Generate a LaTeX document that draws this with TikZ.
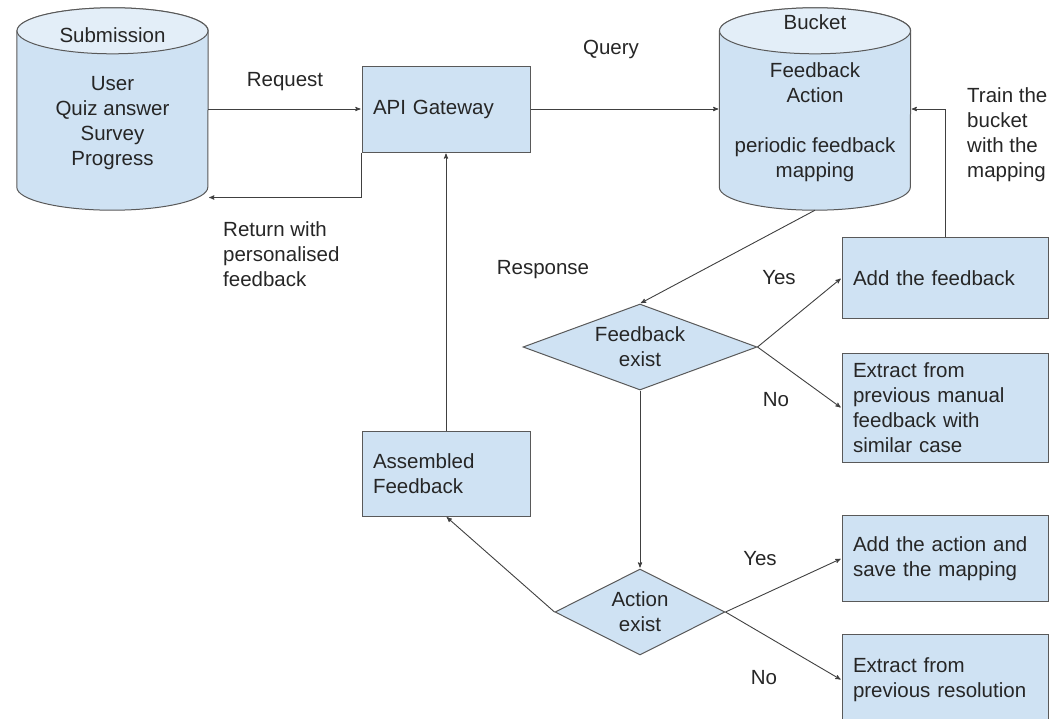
\documentclass[tikz,border=0pt]{standalone}
\usepackage{fontspec}
\setmainfont{Liberation Sans}
\usetikzlibrary{positioning,arrows,shapes.geometric}
\definecolor{boxblue}{HTML}{CFE2F3}
\definecolor{capblue}{HTML}{E3EEF8}
\definecolor{edgegray}{HTML}{595959}
\definecolor{linkgray}{HTML}{404040}
\definecolor{inkgray}{HTML}{262626}
\tikzset{
  block/.style = {rectangle, draw = edgegray, fill = boxblue, line width = 1pt, align = left, inner xsep = 11pt, inner ysep = 0pt},
  store/.style = {rectangle, minimum width = 191pt, minimum height = 202pt, inner sep = 0pt},
  check/.style = {diamond, draw = edgegray, fill = boxblue, line width = 1pt, align = center, inner sep = 0pt},
  note/.style = {align = left, inner sep = 0pt},
  link/.style = {->, color = linkgray, line width = 0.9pt}
}

\begin{document}
\begin{tikzpicture}[x = 1pt, y = 1pt, >= stealth', shorten >= 1pt, on grid, font = \fontsize{20.5}{25}\selectfont, text = inkgray]
  \useasboundingbox (0,0) rectangle (1062,-718);
  \clip (0,0) rectangle (1062,-718);
  % stores
  \node[store] (sub) at (112.5,-109) {};
  \node[store] (bucket) [right = 702.5pt of sub] {};
  \foreach \s in {sub,bucket} {
    \path[draw = edgegray, fill = boxblue, line width = 1pt]
      ([yshift = -23pt]\s.north west) -- ([yshift = 23pt]\s.south west)
      arc[start angle = 180, end angle = 360, x radius = 95.5pt, y radius = 23pt]
      -- ([yshift = -23pt]\s.north east)
      arc[start angle = 0, end angle = 180, x radius = 95.5pt, y radius = 23pt] -- cycle;
    \path[draw = edgegray, fill = capblue, line width = 1pt]
      ([yshift = -23pt]\s.north) ellipse[x radius = 95.5pt, y radius = 23pt];
  }
  \node[align = center, inner sep = 0pt] (subhead) at ([yshift = 74pt]sub.center) {Submission};
  \node[align = center, inner sep = 0pt] (subbody) at ([yshift = -14pt]sub.center) {User\\Quiz answer\\Survey\\Progress};
  \node[align = center, inner sep = 0pt] (buckethead) at ([yshift = 86.5pt]bucket.center) {Bucket};
  \node[align = center, inner sep = 0pt] (bucketbody) at ([yshift = -13pt]bucket.center) {Feedback\\Action\\[25pt]periodic feedback\\mapping};
  % boxes and checks
  \node[block, text width = 146pt, minimum height = 86pt] (api) [right = 333.5pt of sub] {API Gateway};
  \node[block, text width = 146pt, minimum height = 85pt] (asm) [below = 364.5pt of api] {Assembled\\Feedback};
  \node[check, shape aspect = 2.72, minimum width = 234pt, minimum height = 86pt] (fbexist) [below left = 238pt and 175pt of bucket] {Feedback\\exist};
  \node[check, shape aspect = 1.98, minimum width = 170pt, minimum height = 86pt] (actexist) [below = 265pt of fbexist] {Action\\exist};
  \node[block, text width = 184pt, minimum height = 81pt] (addfb) [above right = 69pt and 305pt of fbexist] {Add the feedback};
  \node[block, text width = 184pt, minimum height = 109pt] (extrfb) [below = 130pt of addfb] {Extract from\\previous manual\\feedback with\\similar case};
  \node[block, text width = 184pt, minimum height = 86pt] (addact) [below = 150.5pt of extrfb] {Add the action and\\save the mapping};
  \node[block, text width = 184pt, minimum height = 91pt] (extrres) [below = 121.5pt of addact] {Extract from\\previous resolution};
  % labels
  \node[note] (reqtag) at (285,-82) {Request};
  \node[note] (qrytag) at (611,-49) {Query};
  \node[note, anchor = west] (rettag) at (223,-254.5) {Return with\\personalised\\feedback};
  \node[note, anchor = west] (traintag) at (967,-134.5) {Train the\\bucket\\with the\\mapping};
  \node[note] (restag) at (543,-270) {Response};
  \node[note] (fbyes) at (779,-278) {Yes};
  \node[note] (fbno) at (776,-400) {No};
  \node[note] (actyes) at (760,-559) {Yes};
  \node[note] (actno) at (764,-678) {No};
  % connectors
  \coordinate (retbend) at ([yshift = -45pt]api.south west);
  \path[link] (sub.east) edge (api.west |- sub.east);
  \draw[link] (api.south west) -- (retbend) -- (retbend -| sub.east);
  \path[link] (api.east) edge (bucket.west |- api.east);
  \draw[link] (addfb.north) |- (bucket.east);
  \path[link] (bucket.south) edge (fbexist.north);
  \path[link] (fbexist.east) edge (addfb.west);
  \path[link] (fbexist.east) edge (extrfb.west);
  \path[link] (fbexist.south) edge (actexist.north);
  \path[link] (actexist.west) edge (asm.south);
  \path[link] (asm.north) edge (api.south);
  \path[link] (actexist.east) edge (addact.west);
  \path[link] (actexist.east) edge (extrres.west);
\end{tikzpicture}
\end{document}
